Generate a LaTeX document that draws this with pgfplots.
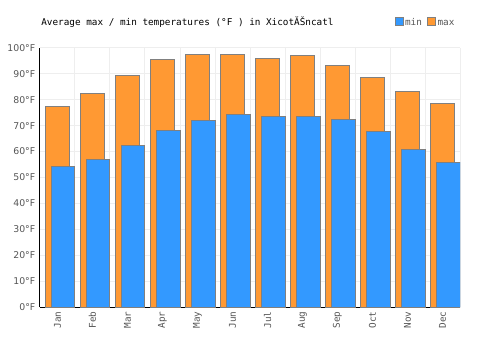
\documentclass[border=0pt]{standalone}
\usepackage{fontspec}
\setmainfont{DejaVu Sans}
\setmonofont{DejaVu Sans Mono}
\usepackage{pgfplots}
\pgfplotsset{compat=1.18}
\definecolor{maxc}{HTML}{FF9933}
\definecolor{minc}{HTML}{3399FF}
\definecolor{bord}{HTML}{808080}
\definecolor{gridc}{HTML}{EEEEEE}
\definecolor{labc}{HTML}{555555}
\begin{document}
\begin{tikzpicture}
\begin{axis}[
  at={(0pt,0pt)}, anchor=south west, scale only axis,
  width=315pt, height=194.25pt,
  xmin=-0.5, xmax=11.5, ymin=0, ymax=100,
  axis lines=left, axis line style={-, black, line width=0.75pt},
  xtick={0,...,11},
  xticklabels={Jan,Feb,Mar,Apr,May,Jun,Jul,Aug,Sep,Oct,Nov,Dec},
  minor xtick={-0.5,0.5,...,11.5},
  ytick={0,10,...,100},
  yticklabels={0°F,10°F,20°F,30°F,40°F,50°F,60°F,70°F,80°F,90°F,100°F},
  major tick length=0pt, minor tick length=0pt,
  ymajorgrids, xminorgrids,
  grid style={gridc, line width=0.75pt},
  minor grid style={gridc, line width=0.75pt},
  xticklabel style={rotate=90, anchor=east, font=\ttfamily\fontsize{7}{8}\selectfont, color=labc},
  yticklabel style={font=\fontsize{7}{8}\selectfont, color=labc},
  legend style={draw=none, fill=none, at={(1,1.1)}, anchor=east, legend columns=2,
    font=\ttfamily\fontsize{7}{8}\selectfont, text=labc,
    nodes={text height=5pt, text depth=0pt, inner sep=1pt},
    /tikz/every even column/.append style={column sep=3pt}},
  legend image code/.code={\draw[#1] (0pt,-2.5pt) rectangle (6pt,3.5pt);},
]
\addlegendimage{fill=minc, draw=bord, line width=0.75pt}
\addlegendentry{min}
\addlegendimage{fill=maxc, draw=bord, line width=0.75pt}
\addlegendentry{max}
\addplot[ybar, bar width=0.68, bar shift=0, fill=maxc, draw=bord, line width=0.75pt, forget plot]
  coordinates {(0,77.5) (1,82.4) (2,89.4) (3,95.6) (4,97.6) (5,97.6) (6,96.0) (7,97.2) (8,93.3) (9,88.7) (10,83.3) (11,78.6)};
\addplot[ybar, bar width=0.68, bar shift=0.16, fill=minc, draw=bord, line width=0.75pt, forget plot]
  coordinates {(0,54.1) (1,57.1) (2,62.4) (3,68.2) (4,72.1) (5,74.4) (6,73.6) (7,73.6) (8,72.5) (9,67.8) (10,60.9) (11,55.9)};
\end{axis}
\node[anchor=west, font=\ttfamily\fontsize{7}{8}\selectfont] at (-2.5pt,213.75pt) {Average max / min temperatures (°F ) in XicotĂŠncatl};
\useasboundingbox (-30pt,-32.25pt) rectangle (345pt,230.25pt);
\end{tikzpicture}
\end{document}
